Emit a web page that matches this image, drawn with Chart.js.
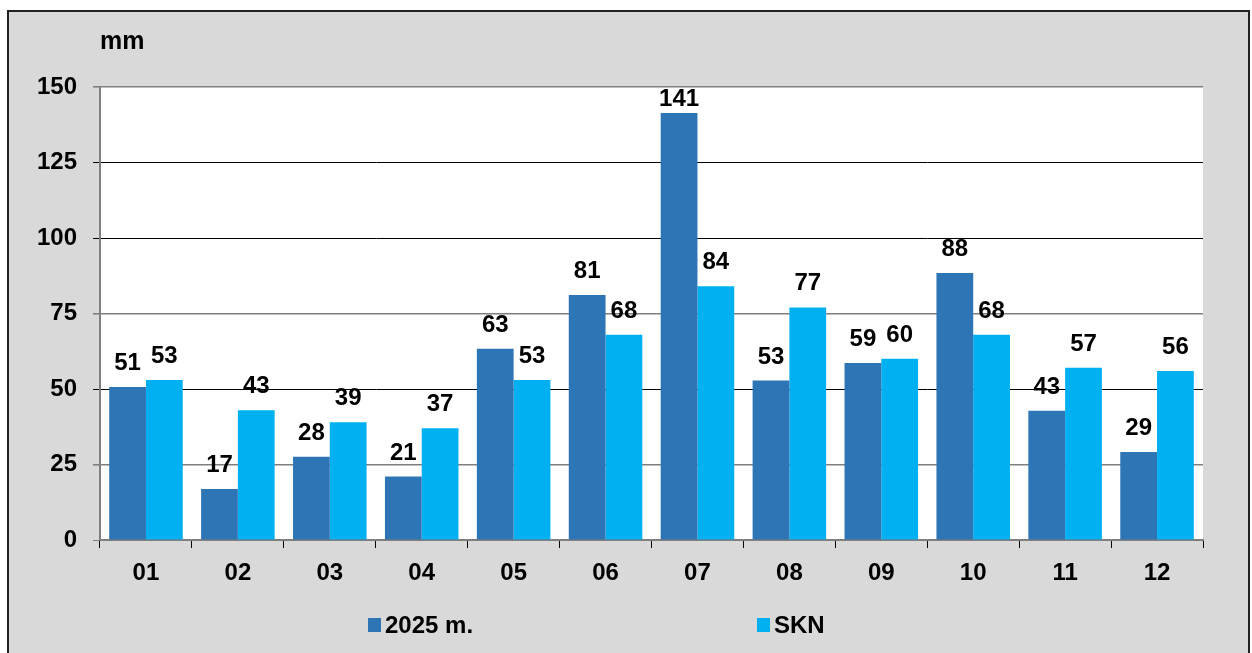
<!DOCTYPE html>
<html>
<head>
<meta charset="utf-8">
<script src="https://cdn.jsdelivr.net/npm/chart.js@4"></script>
<style>
  html, body { margin: 0; padding: 0; background: #ffffff; width: 1252px; height: 653px; overflow: hidden; }
  #frame { position: absolute; left: 7px; top: 10px; width: 1239px; height: 660px; background: #d9d9d9; border: 2px solid #222; }
  #wrap { position: absolute; left: 0; top: 0; width: 1252px; height: 653px; }
</style>
</head>
<body>
<div id="frame"></div>
<div id="wrap"><canvas id="c" width="1252" height="653"></canvas></div>
<script>
const categories = ['01','02','03','04','05','06','07','08','09','10','11','12'];
const seriesNames = ['2025 m.', 'SKN'];
const values2025 = [50.7, 16.9, 27.6, 21.0, 63.3, 81.1, 141.4, 52.8, 58.6, 88.4, 42.8, 29.1];
const valuesSKN = [53, 43, 39, 37, 53, 68, 84, 77, 60, 68, 57, 56];
const yTicks = [0, 25, 50, 75, 100, 125, 150];
const unitLabel = 'mm';

const FONT = "'Liberation Sans', Arial, sans-serif";
const FS = 24;

const bgPlugin = {
  id: 'plotBg',
  beforeDraw(chart) {
    const {ctx, chartArea: a} = chart;
    ctx.save();
    ctx.fillStyle = '#ffffff';
    ctx.fillRect(a.left, a.top, a.right - a.left, a.bottom - a.top);
    ctx.restore();
  }
};

const labelPlugin = {
  id: 'valueLabels',
  afterDatasetsDraw(chart) {
    const {ctx, chartArea: a} = chart;
    ctx.save();
    ctx.font = `bold ${FS}px ${FONT}`;
    ctx.fillStyle = '#000';
    ctx.textAlign = 'center';
    ctx.textBaseline = 'alphabetic';
    chart.data.datasets.forEach((ds, di) => {
      const meta = chart.getDatasetMeta(di);
      meta.data.forEach((el, i) => {
        const y = Math.max(el.y - 17, a.top + 19);
        ctx.fillText(String(Math.round(ds.data[i])), el.x, y);
      });
    });
    ctx.restore();
  }
};

const legendPlugin = {
  id: 'customLegend',
  afterDraw(chart) {
    const {ctx} = chart;
    const xs = [368, 757];
    ctx.save();
    ctx.font = `bold ${FS}px ${FONT}`;
    ctx.textAlign = 'left';
    ctx.textBaseline = 'middle';
    chart.data.datasets.forEach((ds, i) => {
      ctx.fillStyle = ds.backgroundColor;
      ctx.fillRect(xs[i], 618, 13, 14);
      ctx.fillStyle = '#000';
      ctx.fillText(ds.label, xs[i] + 17, 626);
    });
    ctx.restore();
  }
};

const gridColor = (c) => {
  const v = c.tick && c.tick.value;
  return (v === 25 || v === 75 || v === 150 || v === 0) ? '#7f7f7f' : '#000000';
};
const gridWidth = (c) => {
  const v = c.tick && c.tick.value;
  return (v === 25 || v === 75 || v === 150) ? 1.6 : 1;
};

new Chart(document.getElementById('c'), {
  type: 'bar',
  data: {
    labels: categories,
    datasets: [
      { label: seriesNames[0], data: values2025, backgroundColor: '#2e75b6', borderWidth: 0 },
      { label: seriesNames[1], data: valuesSKN, backgroundColor: '#00b0f0', borderWidth: 0 }
    ]
  },
  options: {
    responsive: false,
    animation: false,
    devicePixelRatio: 1,
    layout: { padding: { left: 0, right: 49, top: 0, bottom: 53 } },
    datasets: { bar: { categoryPercentage: 0.8, barPercentage: 1.0 } },
    plugins: {
      legend: { display: false },
      tooltip: { enabled: false },
      title: {
        display: true,
        text: unitLabel,
        align: 'start',
        position: 'top',
        fullSize: false,
        color: '#000',
        font: { family: FONT, size: 25, weight: 'bold' },
        padding: { top: 27, bottom: 30 }
      }
    },
    scales: {
      x: {
        grid: { offset: true, drawOnChartArea: false, tickLength: 8, tickColor: '#000', tickWidth: 1 },
        border: { color: '#7f7f7f', width: 2 },
        ticks: { color: '#000', font: { family: FONT, size: FS, weight: 'bold' }, padding: 11, maxRotation: 0 },
        afterFit(scale) { scale.height = 60; }
      },
      y: {
        min: 0,
        max: 150,
        afterBuildTicks(scale) { scale.ticks = yTicks.map(v => ({ value: v })); },
        grid: { color: gridColor, lineWidth: gridWidth, tickLength: 7, tickColor: gridColor },
        border: { color: '#7f7f7f', width: 2 },
        ticks: { color: '#000', font: { family: FONT, size: FS, weight: 'bold' }, padding: 16 },
        afterFit(scale) { scale.width = 100; }
      }
    }
  },
  plugins: [bgPlugin, labelPlugin, legendPlugin]
});
</script>
</body>
</html>
